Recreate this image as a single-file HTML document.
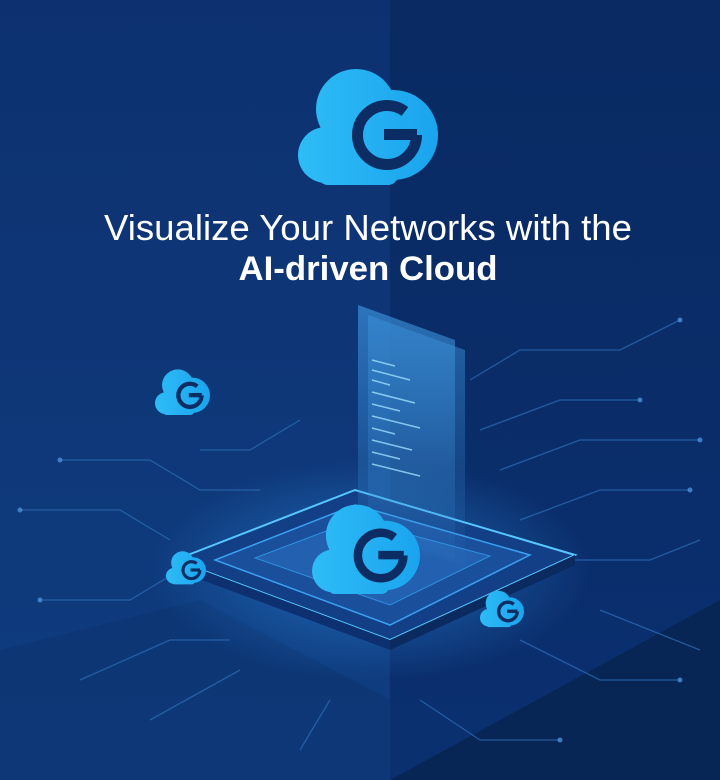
<!DOCTYPE html>
<html><head><meta charset="utf-8"><style>
html,body{margin:0;padding:0;width:720px;height:780px;overflow:hidden;background:#0b2f6b}
svg{display:block}
</style></head><body>
<svg width="720" height="780" viewBox="0 0 720 780" xmlns="http://www.w3.org/2000/svg">
<defs>
<linearGradient id="bgL" x1="0" y1="0" x2="0" y2="1"><stop offset="0" stop-color="#0d3170"/><stop offset="1" stop-color="#0f3d80"/></linearGradient>
<linearGradient id="bgR" x1="0" y1="0" x2="0" y2="1"><stop offset="0" stop-color="#092a62"/><stop offset="1" stop-color="#0b3070"/></linearGradient>
<linearGradient id="cl" gradientUnits="userSpaceOnUse" x1="0" y1="0" x2="140" y2="0"><stop offset="0" stop-color="#2ebcf6"/><stop offset="1" stop-color="#1aa4ee"/></linearGradient>
<linearGradient id="pan" x1="0" y1="0" x2="0" y2="1"><stop offset="0" stop-color="#3a8fd8" stop-opacity=".7"/><stop offset="1" stop-color="#3a8fd8" stop-opacity=".05"/></linearGradient>
<radialGradient id="glow" cx=".5" cy=".5" r=".5"><stop offset="0" stop-color="#2a8ae0" stop-opacity=".6"/><stop offset="1" stop-color="#2a8ae0" stop-opacity="0"/></radialGradient>
<symbol id="cloud" viewBox="0 0 140 122">
<g fill="url(#cl)">
<circle cx="28" cy="92" r="28"/>
<circle cx="58" cy="46" r="40"/>
<circle cx="95" cy="72" r="45"/>
<rect x="20" y="80" width="80" height="42" rx="10"/>
</g>
<circle cx="89" cy="72" r="29.5" fill="none" stroke="#0c2d63" stroke-width="11" stroke-dasharray="158 40"/>
<rect x="86" y="66" width="33" height="11" fill="#0c2d63"/>
</symbol>
</defs>
<rect width="390" height="780" fill="url(#bgL)"/>
<rect x="390" width="330" height="780" fill="url(#bgR)"/>
<polygon points="390,780 720,600 720,780" fill="#08244f" opacity=".8"/>
<polygon points="0,780 0,650 200,600 390,700 390,780" fill="#0c3370" opacity=".6"/>
<g stroke="#2e6fb8" stroke-width="1.3" fill="none" opacity=".7">
<path d="M60 460 L150 460 L200 490 L260 490"/><path d="M20 510 L120 510 L170 540"/><path d="M40 600 L130 600 L180 570"/>
<path d="M80 680 L170 640 L230 640"/><path d="M150 720 L240 670"/><path d="M300 420 L250 450 L200 450"/>
<path d="M470 380 L520 350 L620 350 L680 320"/><path d="M480 430 L560 400 L640 400"/><path d="M500 470 L580 440 L700 440"/>
<path d="M520 520 L600 490 L690 490"/><path d="M560 560 L650 560 L700 540"/><path d="M520 640 L600 680 L680 680"/>
<path d="M420 700 L480 740 L560 740"/><path d="M330 700 L300 750"/><path d="M600 610 L700 650"/>
</g>
<g fill="#4a90d8" opacity=".8">
<circle cx="60" cy="460" r="2.5"/><circle cx="20" cy="510" r="2.5"/><circle cx="40" cy="600" r="2.5"/><circle cx="680" cy="320" r="2.5"/><circle cx="640" cy="400" r="2.5"/><circle cx="700" cy="440" r="2.5"/><circle cx="690" cy="490" r="2.5"/><circle cx="680" cy="680" r="2.5"/><circle cx="560" cy="740" r="2.5"/>
</g>
<ellipse cx="370" cy="570" rx="220" ry="110" fill="url(#glow)"/>
<polygon points="175,560 355,490 575,555 390,640" fill="#123f85" stroke="#56c8ff" stroke-width="2"/>
<polygon points="215,560 355,505 530,555 390,625" fill="#1a4f9c" stroke="#3aa0f0" stroke-width="1.5"/>
<polygon points="255,558 355,520 490,556 390,605" fill="#2360b0" stroke="#2f90e0" stroke-width="1"/>
<polygon points="175,560 390,640 390,650 175,570" fill="#0d3170"/>
<polygon points="390,640 575,555 575,565 390,650" fill="#0a2a60"/>
<polygon points="358,305 455,340 455,560 358,530" fill="url(#pan)"/>
<polygon points="368,315 465,350 465,565 368,540" fill="url(#pan)" opacity=".8"/>
<g stroke="#9fe0ff" stroke-width="1.5" opacity=".8">
<line x1="372" y1="360" x2="395" y2="366"/><line x1="372" y1="370" x2="410" y2="380"/><line x1="372" y1="380" x2="390" y2="385"/><line x1="372" y1="392" x2="415" y2="403"/><line x1="372" y1="404" x2="400" y2="411"/><line x1="372" y1="416" x2="420" y2="428"/><line x1="372" y1="428" x2="395" y2="434"/><line x1="372" y1="440" x2="412" y2="450"/><line x1="372" y1="452" x2="400" y2="459"/><line x1="372" y1="464" x2="420" y2="476"/>
</g>
<use href="#cloud" x="312" y="498" width="108" height="98"/>
<use href="#cloud" x="155" y="366" width="55" height="50"/>
<use href="#cloud" x="166" y="548" width="40" height="38"/>
<use href="#cloud" x="480" y="588" width="44" height="40"/>
<use href="#cloud" x="298" y="63" width="140" height="122"/>
<text x="368" y="240" text-anchor="middle" font-family="Liberation Sans, sans-serif" font-size="36" fill="#ffffff" textLength="528" lengthAdjust="spacingAndGlyphs">Visualize Your Networks with the</text>
<text x="368" y="280" text-anchor="middle" font-family="Liberation Sans, sans-serif" font-size="34" fill="#ffffff" font-weight="bold" textLength="259" lengthAdjust="spacingAndGlyphs">AI-driven Cloud</text>
</svg>
</body></html>
